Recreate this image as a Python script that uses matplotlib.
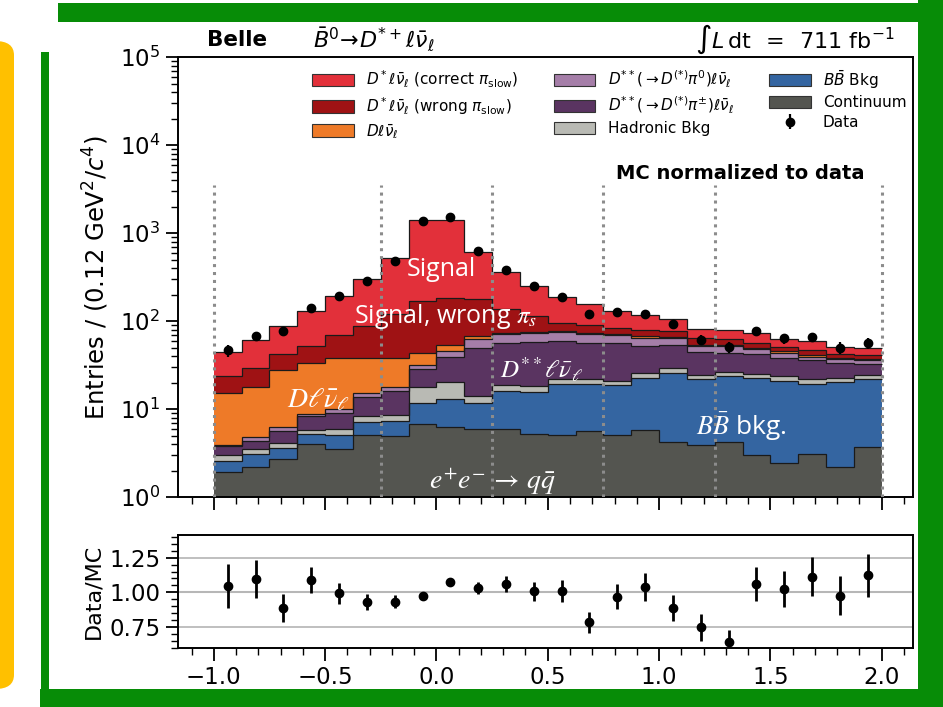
import numpy as np
import matplotlib

matplotlib.use("Agg")
import matplotlib.pyplot as plt
from matplotlib.patches import Patch, Rectangle, FancyBboxPatch
from matplotlib.ticker import MultipleLocator, LogLocator, NullFormatter

# 24 bins of q^2 between -1 and 2
bin_edges = np.arange(-1.0, 2.0001, 0.125)
bin_centers = 0.5 * (bin_edges[1:] + bin_edges[:-1])

# stacked MC components, bottom to top
continuum = [1.83, 2.12, 2.6, 3.92, 3.44, 4.97, 4.8, 6.64, 6.08, 5.82, 5.82, 5.1,
             5.01, 5.6, 4.97, 5.67, 4.1, 3.85, 4.1, 2.88, 2.36, 3.01, 2.07, 3.6]
bbbar_bkg = [0.66, 0.89, 0.93, 1.18, 1.53, 2.08, 2.44, 4.86, 6.92, 5.68, 10.1, 10.4,
             14.4, 13.4, 13.5, 16.9, 21.3, 17.9, 19.5, 19.7, 18.3, 16.0, 18.1, 18.1]
hadronic_bkg = [0.39, 0.43, 0.50, 0.57, 0.85, 1.14, 1.17, 6.2, 7.2, 2.5, 2.9, 2.7,
                2.3, 2.7, 2.2, 2.8, 3.8, 2.4, 2.6, 2.5, 2.9, 3.0, 2.0, 2.4]
dss_pipm = [0.81, 0.84, 1.44, 2.52, 3.04, 5.51, 7.69, 10.5, 19.1, 34.9, 38.1, 39.5,
            37.6, 34.1, 36.2, 26.6, 24.1, 20.3, 17.4, 16.7, 14.7, 13.7, 11.4, 8.0]
dss_pi0 = [0.16, 0.40, 0.61, 0.60, 1.14, 1.3, 1.8, 3.3, 6.3, 14.1, 13.8, 16.2,
           15.7, 14.9, 12.0, 12.8, 10.8, 7.6, 8.4, 5.8, 5.3, 3.6, 3.0, 3.6]
d_lnu = [11.45, 13.2, 21.6, 24.8, 28.3, 23.3, 20.1, 11.4, 8.4, 4.6, 1.9, 1.1,
         1.5, 2.4, 2.5, 2.0, 1.5, 2.0, 2.0, 2.0, 1.5, 1.5, 1.2, 1.2]
dstar_wrong = [8.3, 11.2, 14.1, 18.4, 31.7, 49.7, 82, 127, 128, 109, 66, 39,
               17.9, 16.4, 12.9, 12.2, 11.4, 9.6, 8.0, 7.3, 6.1, 6.0, 4.0, 3.8]
dstar_correct = [20.8, 32.4, 45.5, 77, 122, 217, 401, 1256, 1244, 429, 225, 134,
                 94, 65.5, 45.7, 37, 28, 18.4, 17, 15.7, 10.8, 12, 9.4, 9.1]

data = [46.4, 67.5, 77.3, 140, 191, 285, 487, 1392, 1533, 625, 386, 250,
        190, 122, 126, 120, 93, 61.5, 50.8, 77, 63.5, 65.5, 50, 56]
data_err = [7.0, 8.4, 8.7, 11.9, 14.4, 17.4, 23, 37, 39, 25, 20, 16,
            14, 11.8, 11.6, 11.6, 9.8, 8.0, 7.1, 9.0, 8.1, 8.3, 7.2, 7.7]

ratio = [1.046, 1.097, 0.886, 1.087, 0.995, 0.934, 0.934, 0.976, 1.075, 1.032, 1.061, 1.007,
         1.012, 0.786, 0.968, 1.036, 0.886, 0.75, 0.643, 1.061, 1.024, 1.114, 0.976, 1.124]
ratio_err = [0.157, 0.136, 0.10, 0.092, 0.075, 0.057, 0.045, 0.02, 0.015, 0.04, 0.055, 0.067,
             0.078, 0.076, 0.089, 0.10, 0.093, 0.097, 0.09, 0.124, 0.131, 0.141, 0.14, 0.154]

region_bounds = [-1.0, -0.25, 0.25, 0.75, 1.25, 2.0]

components = [
    (continuum, "#545550", "Continuum"),
    (bbbar_bkg, "#3465a1", r"$B\bar{B}$ Bkg"),
    (hadronic_bkg, "#b9bab4", "Hadronic Bkg"),
    (dss_pipm, "#5a3461", r"$D^{**}(\to D^{(*)}\pi^{\pm})\ell\bar{\nu}_\ell$"),
    (dss_pi0, "#a57ea8", r"$D^{**}(\to D^{(*)}\pi^{0})\ell\bar{\nu}_\ell$"),
    (d_lnu, "#ee7a28", r"$D\ell\bar{\nu}_\ell$"),
    (dstar_wrong, "#9f1214", r"$D^*\ell\bar{\nu}_\ell$ (wrong $\pi_{\mathrm{slow}}$)"),
    (dstar_correct, "#e2303a", r"$D^*\ell\bar{\nu}_\ell$ (correct $\pi_{\mathrm{slow}}$)"),
]

fig = plt.figure(figsize=(9.43, 7.07), dpi=100)
ax = fig.add_axes([0.189, 0.297, 0.779, 0.622])
axr = fig.add_axes([0.189, 0.083, 0.779, 0.160])

bottom = np.full(len(bin_centers), 0.1)
handles = {}
for vals, color, label in components:
    top = bottom + np.asarray(vals)
    ax.stairs(top, bin_edges, baseline=bottom, fill=True, facecolor=color, lw=0, zorder=2)
    ax.stairs(top, bin_edges, baseline=None, color="#1a1a1a", lw=0.9, zorder=3)
    handles[label] = Patch(facecolor=color, edgecolor="#333333", lw=0.8)
    bottom = top

ax.vlines(region_bounds, 1, 3500, colors="#8c8c8c", linestyles=(0, (1, 1.6)), lw=2.2, zorder=4)

eb = ax.errorbar(bin_centers, data, yerr=data_err, fmt="o", color="black", ms=6,
                 elinewidth=1.6, capsize=0, zorder=6)

ax.set_yscale("log")
ax.set_ylim(1, 1e5)
ax.set_xlim(-1.16, 2.14)
ax.xaxis.set_major_locator(MultipleLocator(0.5))
ax.xaxis.set_minor_locator(MultipleLocator(0.1))
ax.set_xticklabels([])
ax.yaxis.set_major_locator(LogLocator(base=10, numticks=10))
ax.yaxis.set_minor_locator(LogLocator(base=10, subs=np.arange(2, 10), numticks=20))
ax.yaxis.set_minor_formatter(NullFormatter())
ax.set_ylabel(r"Entries / (0.12 GeV$^2$/$c^4$)", fontsize=17.5, labelpad=6)

for a in (ax, axr):
    a.tick_params(which="major", length=9, width=1.3, labelsize=16.5, pad=4)
    a.tick_params(which="minor", length=5, width=1.0)
    for s in a.spines.values():
        s.set_linewidth(1.4)

# in-plot labels
lab = dict(color="white", ha="center", va="center", zorder=7)
ax.text(0.02, 390, "Signal", family="Open Sans", fontsize=18, **lab)
ax.text(0.04, 112, r"Signal, wrong $\pi_s$", family="Open Sans", math_fontfamily="stix",
        fontsize=18, **lab)
ax.text(-0.53, 12.8, r"$D\ell\bar{\nu}_\ell$", math_fontfamily="stix", fontsize=20, **lab)
ax.text(0.47, 28, r"$D^{**}\ell\bar{\nu}_\ell$", math_fontfamily="stix", fontsize=18, **lab)
ax.text(1.37, 6.3, r"$B\bar{B}$ bkg.", family="Open Sans", math_fontfamily="stix",
        fontsize=19, **lab)
ax.text(0.25, 1.5, r"$e^{+}e^{-} \, \to \, q\bar{q}$", math_fontfamily="stix", fontsize=20, **lab)

ax.text(0.934, 0.736, "MC normalized to data", transform=ax.transAxes, ha="right",
        va="center", fontsize=14, fontweight="bold")

order = [components[7][2], components[6][2], components[5][2],
         components[4][2], components[3][2], components[2][2],
         components[1][2], components[0][2]]
leg_handles = [handles[k] for k in order] + [eb]
leg_labels = order + ["Data"]
ax.legend(leg_handles, leg_labels, ncol=3, loc="upper left", bbox_to_anchor=(0.164, 1.006),
          frameon=False, fontsize=11, handlelength=2.7, handleheight=0.85,
          columnspacing=2.35, labelspacing=0.32)

# ratio panel
axr.axhline(1.0, color="#c8c8c8", lw=1.5, zorder=1)
axr.errorbar(bin_centers, ratio, yerr=ratio_err, fmt="o", color="black", ms=6,
             elinewidth=2, capsize=0, zorder=5)
axr.set_xlim(-1.16, 2.14)
axr.set_ylim(0.6, 1.41)
axr.set_yticks([0.75, 1.0, 1.25])
axr.yaxis.set_minor_locator(MultipleLocator(0.05))
axr.xaxis.set_major_locator(MultipleLocator(0.5))
axr.xaxis.set_minor_locator(MultipleLocator(0.1))
axr.grid(axis="y", which="major", color="#b4b4b4", lw=1.2)
axr.set_ylabel("Data/MC", fontsize=16)

# header
fig.text(0.251, 0.943, "Belle", fontsize=15.5, fontweight="bold", ha="center", va="center")
fig.text(0.332, 0.945, r"$\bar{B}^0\!\to\! D^{*+}\ell\bar{\nu}_\ell$", fontsize=16,
         ha="left", va="center")
fig.text(0.949, 0.945, r"$\int L\,\mathrm{dt}\ \,=\ \,711\ \mathrm{fb}^{-1}$", fontsize=16,
         ha="right", va="center")

# slide decoration
green = "#078c07"
W, H = 943.0, 707.0
for x0, y0, w, h in [(58, 685, 885, 19), (918, 0, 25, 707), (40, 0, 903, 18), (41, 0, 8, 655)]:
    fig.add_artist(Rectangle((x0 / W, y0 / H), w / W, h / H, transform=fig.transFigure,
                             facecolor=green, edgecolor="none", zorder=10))
fig.add_artist(FancyBboxPatch((-40 / W, 18 / H), 54 / W, 648 / H, transform=fig.transFigure,
                              boxstyle="round,pad=0,rounding_size=0.02", facecolor="#ffc000",
                              edgecolor="none", zorder=10))

fig.savefig("out.png", dpi=100)
